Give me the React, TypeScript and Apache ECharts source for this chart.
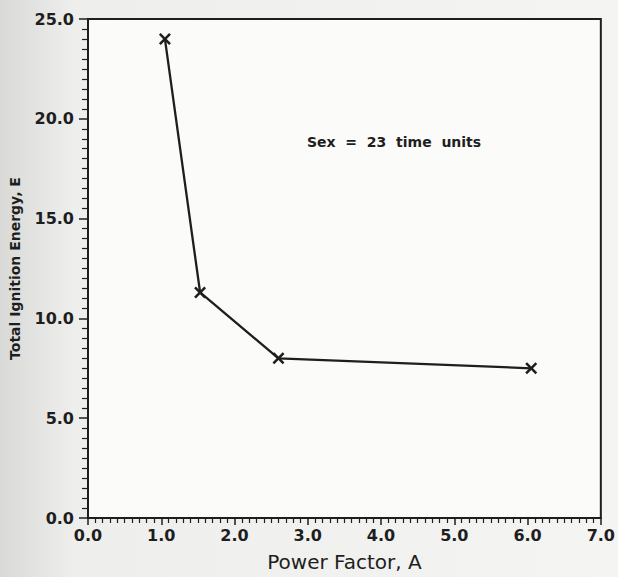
import React, { useEffect, useRef } from "react";
import * as echarts from "echarts";

const xValues = [1.05, 1.53, 2.6, 6.05];
const yValues = [24.0, 11.3, 8.0, 7.5];
const xTitle = "Power Factor, A";
const yTitle = "Total Ignition Energy, E";
const note = "Sex  =  23  time  units";

const FONT = "'DejaVu Sans', Verdana, sans-serif";
const INK = "#1e1e1e";

export default function App() {
  const ref = useRef<HTMLDivElement>(null);
  useEffect(() => {
    if (!ref.current) return;
    const chart = echarts.init(ref.current, null, { renderer: "svg" });
    const data = xValues.map((x, i) => [x, yValues[i]]);
    chart.setOption({
      animation: false,
      backgroundColor: {
        type: "linear",
        x: 0, y: 0, x2: 1, y2: 0,
        colorStops: [
          { offset: 0, color: "#d9d9d7" },
          { offset: 0.12, color: "#eeeeec" },
          { offset: 1, color: "#f4f4f2" },
        ],
      },
      grid: { left: 88, right: 12, top: 19, bottom: 56, show: true, backgroundColor: "#fbfbfa", borderColor: INK, borderWidth: 2 },
      xAxis: [
        {
          type: "value",
          min: 0, max: 7, interval: 1,
          name: xTitle,
          nameLocation: "middle",
          nameGap: 34,
          nameTextStyle: { fontFamily: FONT, fontSize: 20, color: INK },
          axisLine: { lineStyle: { color: INK, width: 2 } },
          axisTick: { show: true, length: 7, lineStyle: { color: INK, width: 1.5 } },
          minorTick: { show: true, splitNumber: 10, length: 5, lineStyle: { color: INK, width: 1.2 } },
          splitLine: { show: false },
          axisLabel: { fontFamily: FONT, fontSize: 16, fontWeight: "bold", color: INK, margin: 9, formatter: (v: number) => v.toFixed(1) },
        },
      ],
      yAxis: [
        {
          type: "value",
          min: 0, max: 25, interval: 5,
          name: yTitle,
          nameLocation: "middle",
          nameGap: 66,
          nameTextStyle: { fontFamily: FONT, fontSize: 14, fontWeight: "bold", color: INK, padding: [0, 0, 0, 0] },
          axisLine: { lineStyle: { color: INK, width: 2 } },
          axisTick: { show: true, length: 9, lineStyle: { color: INK, width: 1.5 } },
          minorTick: { show: true, splitNumber: 10, length: 6, lineStyle: { color: INK, width: 1.2 } },
          splitLine: { show: false },
          axisLabel: { fontFamily: FONT, fontSize: 16, fontWeight: "bold", color: INK, margin: 14, formatter: (v: number) => v.toFixed(1) },
        },
      ],
      series: [
        {
          type: "line",
          data,
          symbol: "path://M0,1.5 L1.5,0 L5,3.5 L8.5,0 L10,1.5 L6.5,5 L10,8.5 L8.5,10 L5,6.5 L1.5,10 L0,8.5 L3.5,5 Z",
          symbolSize: 12,
          showSymbol: true,
          lineStyle: { color: INK, width: 2.3 },
          itemStyle: { color: INK },
        },
      ],
      graphic: [
        {
          type: "text",
          left: 307,
          top: 135,
          style: { text: note, fontFamily: FONT, fontSize: 14, fontWeight: "bold", fill: INK },
        },
      ],
    });
    return () => chart.dispose();
  }, []);
  return <div ref={ref} style={{ position: "absolute", left: 0, top: 0, width: 618, height: 577 }} />;
}
